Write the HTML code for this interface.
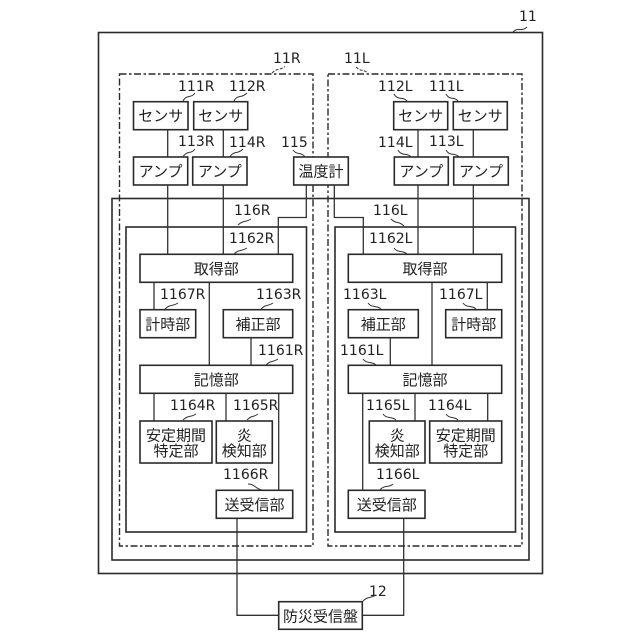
<!DOCTYPE html>
<html><head><meta charset="utf-8"><style>
html,body{margin:0;padding:0;background:#fff}
svg{display:block}
.b{fill:#fff;stroke:#2a2a2a;stroke-width:1.6}
.n{fill:none;stroke:#2a2a2a;stroke-width:1.6}
.w{fill:none;stroke:#333;stroke-width:1.3}
.d{fill:none;stroke:#2a2a2a;stroke-width:1.4;stroke-dasharray:7 2.5 2.5 2.5}
.l{fill:none;stroke:#333;stroke-width:1}
.ld{fill:none;stroke:#333;stroke-width:1;stroke-dasharray:3 1.5}
.t{font-family:"Liberation Sans","Noto Sans CJK JP",sans-serif;font-size:15px;fill:#222;text-anchor:middle}
.r{font-family:"DejaVu Sans",sans-serif;font-size:14px;fill:#222}
</style></head><body>
<svg width="640" height="640" viewBox="0 0 640 640" xmlns="http://www.w3.org/2000/svg">
<rect x="98.5" y="32.5" width="444" height="541" class="n"/>
<rect x="112" y="198.5" width="417" height="361.5" class="n"/>
<rect x="119.5" y="74" width="193.5" height="472" class="d"/>
<rect x="328" y="74" width="194" height="472" class="d"/>
<rect x="126" y="227" width="180.5" height="305" class="n"/>
<rect x="335" y="227" width="180.5" height="305" class="n"/>

<path class="w" d="M167.7 129V157M167.7 185V254M223.3 129V157M223.3 185V254M306.3 185V217.5H278.3V254M334.3 185V217.5H363.3V254M418 129V157M418 185V254M473.3 129V157M473.3 185V254"/>
<path class="w" d="M154 282V310M209.3 282V365M251 338V365M154 393V421M226 393V421M278.7 393V490M237 518V615.3H279"/>
<path class="w" d="M432 282V365M487.3 282V310M390.3 338V365M362.7 393V490M415 393V421M487.7 393V421M403.7 518V615.3H362"/>

<rect x="133.5" y="101.7" width="54.5" height="28" class="b"/><text x="160.7" y="121" class="t">センサ</text>
<rect x="193.7" y="101.7" width="54" height="28" class="b"/><text x="220.7" y="121" class="t">センサ</text>
<rect x="393.7" y="101.7" width="54" height="28" class="b"/><text x="420.7" y="121" class="t">センサ</text>
<rect x="453.3" y="101.7" width="54" height="28" class="b"/><text x="480.3" y="121" class="t">センサ</text>
<rect x="133.5" y="157" width="54.2" height="28" class="b"/><text x="160.6" y="176.500" class="t">アンプ</text>
<rect x="192.7" y="157" width="54.3" height="28" class="b"/><text x="219.8" y="176.500" class="t">アンプ</text>
<rect x="394.3" y="157" width="54" height="28" class="b"/><text x="421.3" y="176.500" class="t">アンプ</text>
<rect x="453.7" y="157" width="54.6" height="28" class="b"/><text x="481" y="176.500" class="t">アンプ</text>
<rect x="293.7" y="157" width="54.6" height="28" class="b"/><text x="321" y="176.500" class="t">温度計</text>

<rect x="140" y="254.3" width="152.7" height="28" class="b"/><text x="216.3" y="274" class="t">取得部</text>
<rect x="348.3" y="254.3" width="153.4" height="28" class="b"/><text x="425" y="274" class="t">取得部</text>
<rect x="140" y="309.7" width="55.7" height="28" class="b"/><text x="167.8" y="329.500" class="t">計時部</text>
<rect x="223.3" y="309.7" width="69.4" height="28" class="b"/><text x="258" y="329.500" class="t">補正部</text>
<rect x="348.3" y="309.7" width="70" height="28" class="b"/><text x="383.3" y="329.500" class="t">補正部</text>
<rect x="445.7" y="309.7" width="56" height="28" class="b"/><text x="473.7" y="329.500" class="t">計時部</text>
<rect x="140" y="365.3" width="152.7" height="28" class="b"/><text x="216.3" y="385" class="t">記憶部</text>
<rect x="348.3" y="365.3" width="153.4" height="28" class="b"/><text x="425" y="385" class="t">記憶部</text>

<rect x="140" y="421" width="72" height="42" class="b"/><text x="176" y="440.500" class="t">安定期間</text><text x="176" y="456" class="t">特定部</text>
<rect x="216.3" y="421" width="56" height="42" class="b"/><text x="244.3" y="440.500" class="t">炎</text><text x="244.3" y="456" class="t">検知部</text>
<rect x="369.3" y="421" width="55.7" height="42" class="b"/><text x="397.2" y="440.500" class="t">炎</text><text x="397.2" y="456" class="t">検知部</text>
<rect x="429.7" y="421" width="72" height="42" class="b"/><text x="465.7" y="440.500" class="t">安定期間</text><text x="465.7" y="456" class="t">特定部</text>
<rect x="216.3" y="490.3" width="76.4" height="28" class="b"/><text x="254.5" y="510" class="t">送受信部</text>
<rect x="348.3" y="490.3" width="76.7" height="28" class="b"/><text x="386.7" y="510" class="t">送受信部</text>
<rect x="278.7" y="601.7" width="83.6" height="27.6" class="b"/><text x="320.5" y="621.500" class="t">防災受信盤</text>

<path class="l" d="M513 32q3-3 7-2.500t7-2.500"/>
<path class="ld" d="M272 73q3-3 6-3.500t7-3M356 67q3 3 6 3.300t6 2.700"/>
<path class="l" d="M183 101q2-4 6-4.500t6-3.500M234 101q2-4 6-4.500t7-3.500M183 157q2-4 6-4.500t6-3.500M230 157q2-4 6-4.500t7-3.500M293 150q2 3 6 3.500t6 3.500M238 225q3-3 6.500-3.500t6.500-2.500M391 219q3 3 6.500 3.500t6.500 3.500M394 94q2 4 6.500 4.300t6.500 2.700M446 94q2 4 6 4.300t6 2.700M398 150q2 4 6.500 4.300t6.500 2.700M446 150q2 4 6.500 4.300t6.500 2.700"/>
<path class="l" d="M234 254q3-3 6.500-3.500t6.500-2.500M394 248q2 3 6.500 3.500t6.500 2.500M165 309q3-3 6.500-3.500t6.500-2.500M261 309q3-3 6-3.500t6-2.500M266 365q3-3 6-3.500t6-2.500M183 420q3-3 6.500-3.500t6.500-2.500M247 420q3-3 5.500-3.500t5.500-2.500M248 484q4 0 7 2.500t7 3.500M368 303q2 3 6.500 3.500t6.500 2.500M463 303q2 3 6.500 3.500t6.500 2.500M363 359q2 3 6.500 3.500t6.500 2.500M383 414q2 3 6.500 3.500t6.500 2.500M446 414q2 3 6 3.500t6 2.500M380 490q2-3 6.500-3.500t6.500-2.500M363 601q3-3 6.500-3.500t6.500-2.500"/>

<text class="r" x="519" y="21">11</text>
<text class="r" x="273" y="63">11R</text>
<text class="r" x="344" y="63">11L</text>
<text class="r" x="178" y="91">111R</text>
<text class="r" x="229" y="91">112R</text>
<text class="r" x="378" y="91">112L</text>
<text class="r" x="429" y="91">111L</text>
<text class="r" x="178" y="146">113R</text>
<text class="r" x="229" y="147">114R</text>
<text class="r" x="281" y="147">115</text>
<text class="r" x="378" y="147">114L</text>
<text class="r" x="429" y="146">113L</text>
<text class="r" x="234" y="215">116R</text>
<text class="r" x="373" y="215">116L</text>
<text class="r" x="229" y="243">1162R</text>
<text class="r" x="369" y="243">1162L</text>
<text class="r" x="160" y="299">1167R</text>
<text class="r" x="256" y="299">1163R</text>
<text class="r" x="343" y="299">1163L</text>
<text class="r" x="439" y="299">1167L</text>
<text class="r" x="258" y="355">1161R</text>
<text class="r" x="340" y="355">1161L</text>
<text class="r" x="170" y="410">1164R</text>
<text class="r" x="233" y="410">1165R</text>
<text class="r" x="366" y="410">1165L</text>
<text class="r" x="428" y="410">1164L</text>
<text class="r" x="223" y="479">1166R</text>
<text class="r" x="376" y="479">1166L</text>
<text class="r" x="369" y="596">12</text>
</svg>
</body></html>
